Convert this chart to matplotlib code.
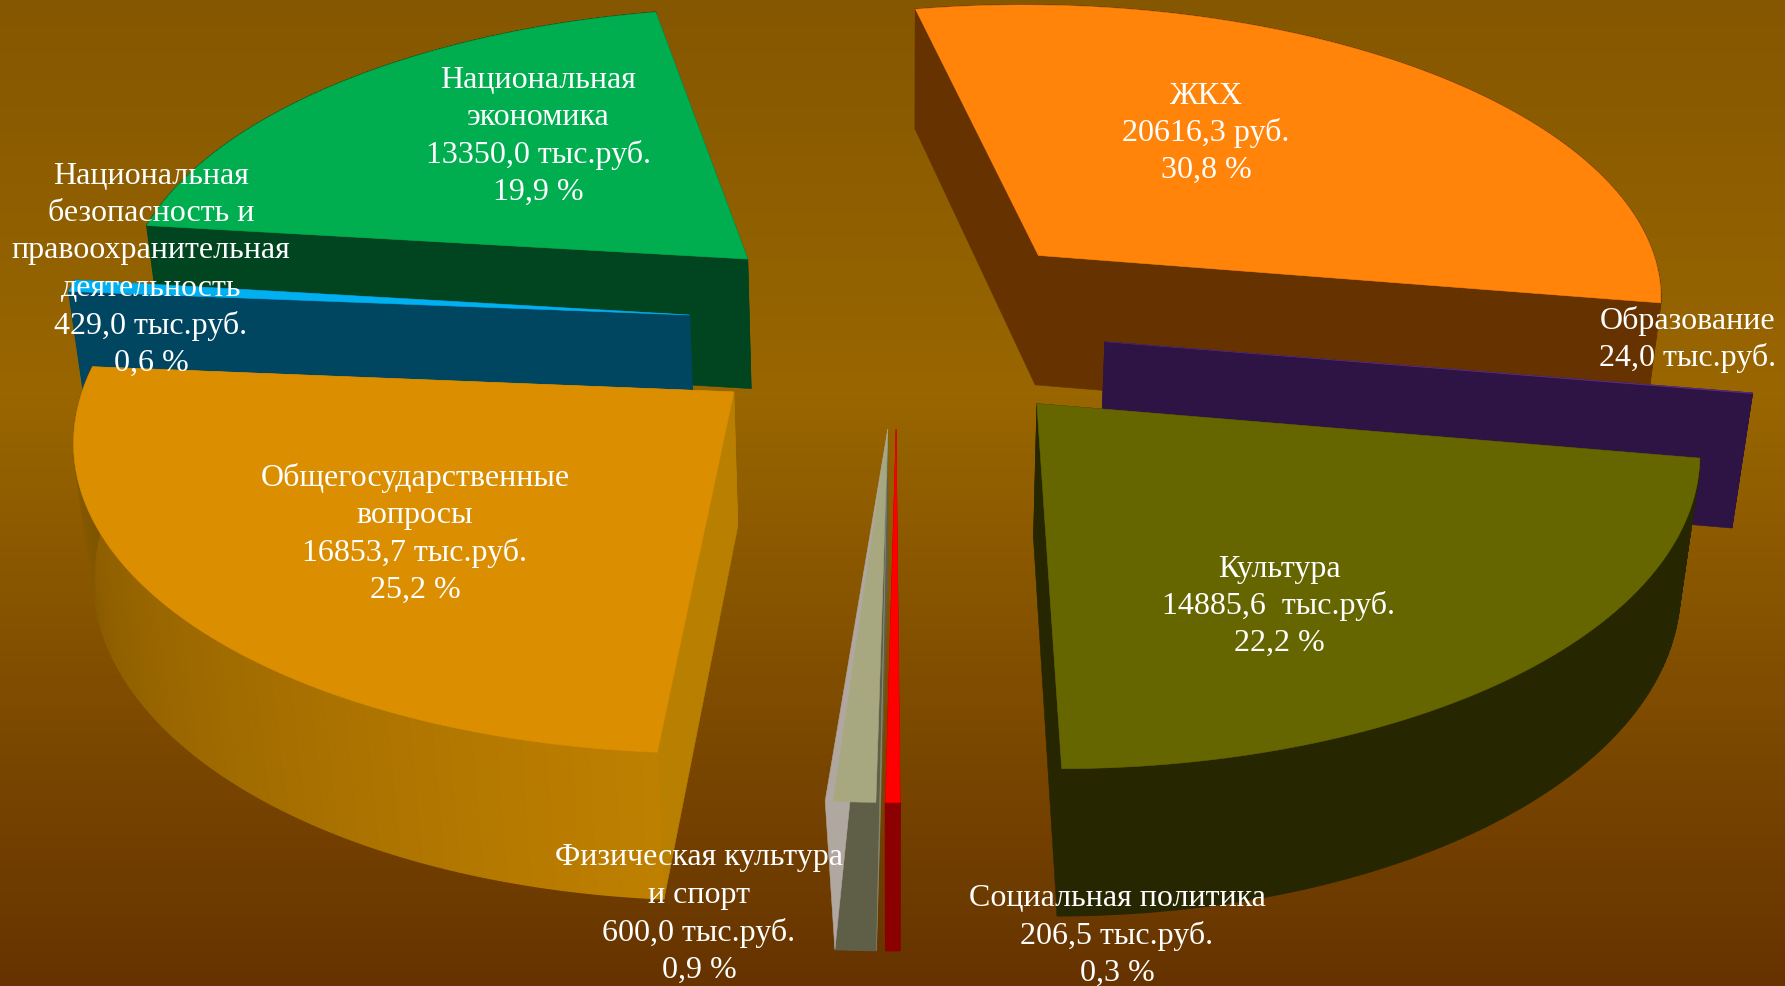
import numpy as np
import matplotlib
matplotlib.use("Agg")
import matplotlib.pyplot as plt
from matplotlib.colors import LinearSegmentedColormap, to_rgb
from matplotlib.patches import Polygon

W, H = 1785, 987
names = ["ЖКХ", "Образование", "Культура", "Социальная политика", "Физическая культура",
         "Общегосударственные вопросы", "Национальная безопасность", "Национальная экономика"]
values = [20616.3, 24.0, 14885.6, 206.5, 600.0, 16853.7, 429.0, 13350.0]
top_colors = ["#FF8409", "#5A2A80", "#666600", "#FF0000", "#A8A880", "#DB8E00", "#00B0F0", "#00AE50"]
wall_colors = ["#663300", "#2E1445", "#262600", "#8B0000", "#5F5F48", "#B87F00", "#004661", "#004420"]
arc_grad = {5: ("#BF8000", "#7A5100")}
slivers = {4: ((0.35, "#88886C"), (0.6, "#B0A8A0"))}
draw_order = [0, 7, 1, 6, 4, 3, 5, 2]

label_lines = [
    ["ЖКХ", "20616,3 руб.", "30,8 %"],
    ["Образование", "24,0 тыс.руб."],
    ["Культура", "14885,6  тыс.руб.", "22,2 %"],
    ["Социальная политика", "206,5 тыс.руб.", "0,3 %"],
    ["Физическая культура", "и спорт", "600,0 тыс.руб.", "0,9 %"],
    ["Общегосударственные", "вопросы", "16853,7 тыс.руб.", "25,2 %"],
    ["Национальная", "безопасность и", "правоохранительная", "деятельность", "429,0 тыс.руб.", "0,6 %"],
    ["Национальная", "экономика", "13350,0 тыс.руб.", "19,9 %"],
]
label_x = [1206, 1688, 1279, 1117, 699, 415, 151, 538]
label_y0 = [96, 321, 569, 899, 858, 478, 176, 80]

# camera
CX, CY, R, K, HGT = 897, 326, 634, 0.47, 132
PX, PY, PZ, Q = 0.125, 0.125, 0.082, 0.024
START = 101.3
EXPLODE_X, EXPLODE_Y = 0.33, 0.335


def proj(x, y, z):
    x, y = np.asarray(x, float), np.asarray(y, float)
    return np.column_stack([CX + R * x / (1 + PX * y - Q * z),
                            CY - R * K * y / (1 + PY * y) - HGT * z / (1 + PZ * y)])


fig = plt.figure(figsize=(W / 100, H / 100), dpi=100)
ax = fig.add_axes([0, 0, 1, 1])
ax.set_xlim(0, W)
ax.set_ylim(H, 0)
ax.axis("off")

bg = LinearSegmentedColormap.from_list("bg", [(0, "#855700"), (0.4, "#996600"), (1, "#663300")])
ax.imshow(np.linspace(0, 1, 256)[:, None], cmap=bg, extent=[0, W, H, 0], aspect="auto", zorder=0)

total = sum(values)
sweeps = np.array(values) / total * 360
starts = START - np.concatenate([[0], np.cumsum(sweeps)[:-1]])


def poly(pts, color, z, lw=0.4):
    ax.add_patch(Polygon(pts, closed=True, facecolor=color, edgecolor=color, linewidth=lw, zorder=z))


zz = 1
for i in draw_order:
    a0, a1 = starts[i], starts[i] - sweeps[i]
    mid = np.radians((a0 + a1) / 2)
    ox, oy = EXPLODE_X * np.cos(mid), EXPLODE_Y * np.sin(mid)
    n = max(3, int(sweeps[i] * 1.5))
    th = np.radians(np.linspace(a0, a1, n))
    ex, ey = ox + np.cos(th), oy + np.sin(th)

    t = proj(ex, ey, 0)
    b = proj(ex, ey, -1)
    at = proj([ox], [oy], 0)
    ab = proj([ox], [oy], -1)
    wc = wall_colors[i]
    # radial walls
    poly(np.vstack([at, t[:1], b[:1], ab]), wc, zz); zz += 1
    poly(np.vstack([at, t[-1:], b[-1:], ab]), wc, zz); zz += 1
    # arc wall
    for j in range(n - 1):
        if i in arc_grad:
            f = j / (n - 2)
            col = tuple((1 - f) * np.array(to_rgb(arc_grad[i][0])) + f * np.array(to_rgb(arc_grad[i][1])))
        else:
            col = wc
        poly(np.vstack([t[j], t[j + 1], b[j + 1], b[j]]), col, zz, lw=1.0); zz += 1
    if i in slivers:
        (d0, c0), (d1, c1) = slivers[i]
        p0 = proj([ox + np.cos(np.radians(a0 + d0))], [oy + np.sin(np.radians(a0 + d0))], 0)
        p1 = proj([ox + np.cos(np.radians(a1 - d1))], [oy + np.sin(np.radians(a1 - d1))], 0)
        poly(np.vstack([at, p0, b[:1]]), c0, zz); zz += 1
        poly(np.vstack([at, p1, b[-1:]]), c1, zz); zz += 1
    # top
    poly(np.vstack([at, t]), top_colors[i], zz); zz += 1

PITCH = 37.4
for lines, x, y0 in zip(label_lines, label_x, label_y0):
    for j, s in enumerate(lines):
        ax.text(x, y0 + j * PITCH, s, ha="center", va="center", color="#FFFFFF",
                family="Liberation Serif", fontsize=23, zorder=10000)

fig.savefig("out.png", dpi=100)
